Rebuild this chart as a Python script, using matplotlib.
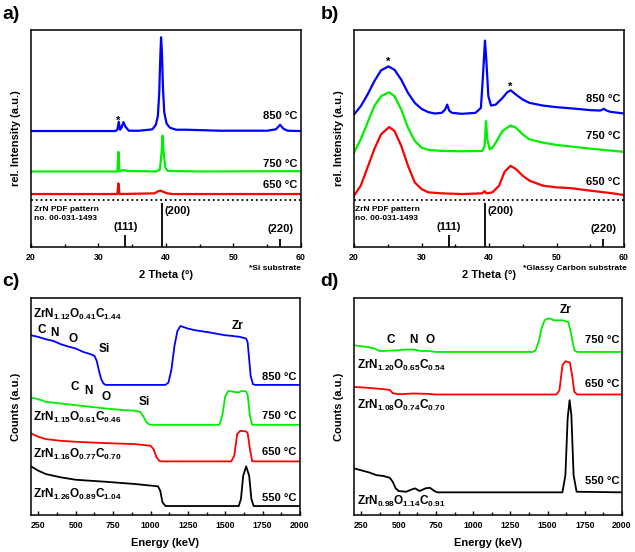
import matplotlib
matplotlib.use("Agg")
import matplotlib.pyplot as plt
from matplotlib.ticker import MultipleLocator

plt.rcParams['font.family'] = ['Liberation Sans', 'DejaVu Sans']
plt.rcParams['font.weight'] = 'bold'
plt.rcParams['mathtext.fontset'] = 'custom'
plt.rcParams['mathtext.rm'] = 'Liberation Sans:bold'
plt.rcParams['mathtext.bf'] = 'Liberation Sans:bold'
plt.rcParams['mathtext.it'] = 'Liberation Sans:bold'

BLUE, GREEN, RED, BLACK = '#0000ff', '#00ee00', '#ff0000', '#000000'

# ---------------- a) XRD on Si ----------------
a_850_x = [20, 25, 30, 32.5, 32.8, 33.0, 33.2, 33.4, 33.7, 34.0, 34.5, 36, 37.5, 38.0, 38.5, 38.8,
           39.0, 39.15, 39.27, 39.4, 39.55, 39.75, 40.1, 40.6, 41.5, 43, 48, 55, 56.3, 56.9, 57.4, 58, 60]
a_850_y = [116.7, 116.7, 116.7, 116.7, 118, 126, 118, 120, 125.7, 121, 117, 117, 118, 118.5, 123, 132,
           155, 190, 211, 195, 160, 135, 124, 120, 118, 118, 117, 117, 118.5, 123, 119, 117, 116.7]
a_750_x = [20, 30, 32.8, 32.95, 33.1, 33.7, 34.2, 38.5, 39.1, 39.35, 39.5, 39.65, 39.9, 40.3, 45, 60]
a_750_y = [76, 76, 76, 95.7, 76, 77.5, 76.5, 76, 78, 95, 112, 95, 80, 76.5, 76, 76.3]
a_650_x = [20, 32.8, 32.95, 33.1, 38.3, 38.8, 39.2, 39.6, 40.2, 41, 60]
a_650_y = [53.3, 53.3, 64, 53.3, 54, 56, 56.7, 55.5, 54, 53.3, 53.3]

# ZrN PDF 00-031-1493 reference sticks
pdf_pos = [34.0, 39.36, 56.9]
pdf_height = [12.3, 44.3, 8.3]
pdf_hkl = ['(111)', '(200)', '(220)']

# ---------------- b) XRD on glassy carbon ----------------
b_850_x = [20, 21, 22, 23, 24, 25.1, 26, 27, 28, 29, 30, 31, 32, 33, 33.5, 33.8, 34.1, 34.5, 36, 38, 38.8,
           39.1, 39.4, 39.6, 39.9, 40.3, 41, 42, 42.7, 43.2, 44, 45, 46, 48, 50, 53, 55, 56.5, 57, 57.5, 58, 60]
b_850_y = [133.3, 141.7, 153.3, 166.7, 177.7, 181.7, 178.3, 168.3, 155, 145, 139, 135.7, 134.3, 135, 138.3,
           143.3, 137.3, 135, 134, 135, 140, 171.7, 207.7, 188.3, 151.7, 142.3, 143.3, 150, 155.7, 157.7,
           153.3, 148.3, 145, 142.3, 140.7, 139, 137.7, 137.3, 139, 137, 136, 134.3]
b_750_x = [20, 21, 22, 23, 24, 25.2, 26, 27, 28, 29, 30, 31, 33, 36, 39, 39.35, 39.55, 39.75, 40.1, 40.5,
           41, 42, 43.2, 44, 45, 46, 48, 50, 55, 60]
b_750_y = [95, 108.3, 125, 141.7, 151.7, 155.7, 151.7, 138.3, 120, 106.7, 100, 97.7, 96.7, 96.3, 96.7,
           101.7, 126.7, 108.3, 98.3, 100, 105, 116.7, 122.3, 120, 113.3, 108.3, 105, 102.7, 99, 95.7]
b_650_x = [20, 21, 22, 23, 24, 25.2, 26, 27, 28, 29, 30, 31, 33, 36, 39, 39.35, 39.6, 40.5, 41.5, 42.3,
           43.2, 44, 45, 46, 48, 50, 52, 55, 58, 60]
b_650_y = [51.7, 61.7, 80, 98.3, 113.3, 120.7, 116.7, 101.7, 81.7, 65, 58.3, 55, 54, 53.3, 54, 56.3, 54,
           55, 61.7, 75.7, 81.7, 78.3, 71.7, 66.7, 61.7, 60, 59.3, 56.7, 54.3, 52.3]

# ---------------- c) RBS spectra on Si ----------------
c_850_x = [200, 250, 300, 350, 400, 450, 500, 550, 600, 625, 640, 655, 670, 685, 700, 1100, 1120, 1140,
           1160, 1180, 1200, 1250, 1300, 1400, 1500, 1550, 1600, 1640, 1650, 1660, 1670, 1685, 1700, 2000]
c_850_y = [180, 178.3, 176, 174.3, 171, 168.7, 166.7, 163.3, 161, 159.3, 154.3, 144.3, 136, 131.7, 130.3,
           130.3, 132.7, 146, 169.3, 184.3, 189.3, 186.7, 185, 182.7, 180, 179.3, 178.3, 176.7, 172.7,
           156, 139.3, 131, 130.3, 130.3]
c_750_x = [200, 250, 300, 400, 500, 600, 700, 800, 900, 930, 950, 970, 990, 1010, 1460, 1480, 1500, 1520,
           1560, 1590, 1610, 1640, 1650, 1665, 1680, 2000]
c_750_y = [117.7, 116, 113.3, 111.7, 110, 108.3, 106.7, 105.3, 104.3, 103.3, 99.3, 93.3, 90.7, 90.3, 90.3,
           99.3, 119, 124.3, 123.3, 122.7, 124.3, 123.7, 120, 99.3, 90.3, 90.3]
c_650_x = [200, 250, 300, 400, 500, 700, 900, 1000, 1020, 1040, 1060, 1080, 1540, 1560, 1580, 1600, 1640,
           1650, 1665, 1680, 1700, 2000]
c_650_y = [81.7, 78.3, 76, 74.3, 73.3, 72, 71, 69.3, 66, 57.7, 54, 53.7, 53.7, 59.3, 81, 84.3, 83.7, 82,
           66, 54, 53.7, 53.7]
c_550_x = [200, 250, 300, 400, 500, 700, 900, 1050, 1065, 1080, 1100, 1590, 1605, 1620, 1640, 1660, 1675,
           1690, 2000]
c_550_y = [48.7, 44.3, 41, 37.7, 35.3, 33.3, 31, 28.7, 24.3, 12.7, 9, 9, 16, 39.3, 48.7, 39.3, 16, 9, 9]
c_formula = [r'$\mathbf{ZrN_{1.12}O_{0.41}C_{1.44}}$', r'$\mathbf{ZrN_{1.15}O_{0.61}C_{0.46}}$',
             r'$\mathbf{ZrN_{1.16}O_{0.77}C_{0.70}}$', r'$\mathbf{ZrN_{1.26}O_{0.89}C_{1.04}}$']

# ---------------- d) RBS spectra on glassy carbon ----------------
d_750_x = [200, 300, 340, 370, 400, 500, 550, 600, 650, 700, 750, 1400, 1420, 1440, 1460, 1480, 1500,
           1520, 1540, 1600, 1640, 1660, 1680, 1700, 2000]
d_750_y = [170, 168, 166.7, 164.3, 164.3, 165, 165.7, 165.7, 164.3, 164.3, 163.3, 163.3, 165, 173.3,
           186.7, 195, 196.7, 196.7, 195, 195, 193.3, 180, 165, 163.3, 163.3]
d_650_x = [200, 300, 400, 440, 460, 500, 600, 700, 750, 1560, 1580, 1600, 1620, 1650, 1665, 1680, 1700, 2000]
d_650_y = [128.3, 127.3, 126, 125.3, 122, 121, 121.7, 121.3, 120.7, 120.7, 125, 150, 154, 152.7, 140,
           123.3, 120.7, 120.7]
d_550_x = [200, 300, 350, 400, 440, 460, 480, 500, 550, 590, 610, 640, 680, 710, 740, 760, 1600, 1620,
           1635, 1648, 1660, 1675, 1695, 2000]
d_550_y = [46.7, 42.7, 40, 39, 37.3, 33.3, 26.7, 24, 23.3, 25.7, 26.7, 24, 26.7, 27.3, 24, 22.7, 22.7, 40,
           96.7, 115, 100, 40, 23.3, 22.7]
d_formula = [r'$\mathbf{ZrN_{1.20}O_{0.65}C_{0.54}}$', r'$\mathbf{ZrN_{1.08}O_{0.74}C_{0.70}}$',
             r'$\mathbf{ZrN_{0.98}O_{1.14}C_{0.91}}$']

fig = plt.figure(figsize=(6.35, 5.52), dpi=100)
ax_a = fig.add_axes([0.0488, 0.5525, 0.4252, 0.3931])
ax_b = fig.add_axes([0.5575, 0.5525, 0.4252, 0.3931])
ax_c = fig.add_axes([0.0488, 0.0670, 0.4236, 0.3931])
ax_d = fig.add_axes([0.5575, 0.0670, 0.4220, 0.3931])


def style(ax, xlim, ylim, major, minor, xlabel, ylabel):
    ax.set_xlim(*xlim)
    ax.set_ylim(*ylim)
    ax.xaxis.set_major_locator(MultipleLocator(major))
    ax.xaxis.set_minor_locator(MultipleLocator(minor))
    ax.tick_params(axis='x', which='both', direction='in', labelsize=6.3, pad=4, width=1)
    ax.tick_params(axis='x', which='major', length=3)
    ax.tick_params(axis='x', which='minor', length=2)
    ax.set_yticks([])
    for s in ax.spines.values():
        s.set_linewidth(1.1)
    ax.set_xlabel(xlabel, fontsize=8, fontweight='bold', labelpad=6)
    ax.set_ylabel(ylabel, fontsize=8, fontweight='bold', labelpad=7)
    for lab in ax.get_xticklabels():
        lab.set_fontweight('bold')


def xrd_reference(ax, pdf_x):
    ax.axhline(47.0, color='black', ls=':', lw=1.3)
    ax.vlines(pdf_pos, 0, pdf_height, color='black', lw=1.3)
    ax.text(pdf_x, 37.3, 'ZrN PDF pattern', fontsize=6, va='center', ha='left')
    ax.text(pdf_x, 28.3, 'no. 00-031-1493', fontsize=6, va='center', ha='left')
    ax.text(pdf_pos[0], 20, pdf_hkl[0], fontsize=8, ha='center', va='center')
    ax.text(pdf_pos[1] + 0.4, 36, pdf_hkl[1], fontsize=8, ha='left', va='center')
    ax.text(pdf_pos[2], 17.8, pdf_hkl[2], fontsize=8, ha='center', va='center')


# a)
ax = ax_a
ax.plot(a_850_x, a_850_y, color=BLUE, lw=1.6)
ax.plot(a_750_x, a_750_y, color=GREEN, lw=1.6)
ax.plot(a_650_x, a_650_y, color=RED, lw=1.6)
style(ax, (20, 60), (0, 218.3), 10, 5, '2 Theta (°)', 'rel. Intensity (a.u.)')
xrd_reference(ax, 20.4)
ax.text(59.5, 131.7, '850 °C', fontsize=8, ha='right', va='center')
ax.text(59.5, 84, '750 °C', fontsize=8, ha='right', va='center')
ax.text(59.5, 62.3, '650 °C', fontsize=8, ha='right', va='center')
ax.text(32.9, 127, '*', fontsize=8, ha='center', va='center')
ax.text(1.0, -0.085, '*Si substrate', fontsize=6, ha='right', va='top', transform=ax.transAxes)
fig.text(0.003, 0.99, 'a)', fontsize=14, fontweight='bold', va='top')

# b)
ax = ax_b
ax.plot(b_850_x, b_850_y, color=BLUE, lw=1.6)
ax.plot(b_750_x, b_750_y, color=GREEN, lw=1.6)
ax.plot(b_650_x, b_650_y, color=RED, lw=1.6)
style(ax, (20, 60), (0, 218.3), 10, 5, '2 Theta (°)', 'rel. Intensity (a.u.)')
xrd_reference(ax, 20.1)
ax.text(59.4, 149, '850 °C', fontsize=8, ha='right', va='center')
ax.text(59.4, 111.7, '750 °C', fontsize=8, ha='right', va='center')
ax.text(59.4, 65.7, '650 °C', fontsize=8, ha='right', va='center')
ax.text(25.1, 186, '*', fontsize=8, ha='center', va='center')
ax.text(43.2, 161, '*', fontsize=8, ha='center', va='center')
ax.text(1.01, -0.085, '*Glassy Carbon substrate', fontsize=6, ha='right', va='top', transform=ax.transAxes)
fig.text(0.505, 0.99, 'b)', fontsize=14, fontweight='bold', va='top')

# c)
ax = ax_c
ax.plot(c_850_x, c_850_y, color=BLUE, lw=1.3)
ax.plot(c_750_x, c_750_y, color=GREEN, lw=1.3)
ax.plot(c_650_x, c_650_y, color=RED, lw=1.3)
ax.plot(c_550_x, c_550_y, color=BLACK, lw=1.3)
style(ax, (200, 2000), (0, 217.3), 250, 125, 'Energy (keV)', 'Counts (a.u.)')
for y, t in zip([138.7, 99.3, 63.3, 17.3], ['850 °C', '750 °C', '650 °C', '550 °C']):
    ax.text(1975, y, t, fontsize=8, ha='right', va='center')
for y, t in zip([201, 97.7, 61, 20.3], c_formula):
    ax.text(216, y, t, fontsize=8.5, ha='left', va='center')
for x, y, t in [(271, 185.3, 'C'), (360, 182, 'N'), (479, 176.7, 'O'), (688, 166, 'Si'),
                (1581, 189.3, 'Zr'), (494, 127.7, 'C'), (584, 124.3, 'N'), (702, 117.7, 'O'),
                (956, 112.7, 'Si')]:
    ax.text(x, y, t, fontsize=8.5, ha='center', va='center')
fig.text(0.003, 0.505, 'c)', fontsize=14, fontweight='bold', va='top')

# d)
ax = ax_d
ax.plot(d_750_x, d_750_y, color=GREEN, lw=1.3)
ax.plot(d_650_x, d_650_y, color=RED, lw=1.3)
ax.plot(d_550_x, d_550_y, color=BLACK, lw=1.3)
style(ax, (200, 2000), (0, 217.3), 250, 125, 'Energy (keV)', 'Counts (a.u.)')
for y, t in zip([175, 131, 34.3], ['750 °C', '650 °C', '550 °C']):
    ax.text(1985, y, t, fontsize=8, ha='right', va='center')
for y, t in zip([150, 109.3, 13.3], d_formula):
    ax.text(218, y, t, fontsize=8.5, ha='left', va='center')
for x, y, t in [(1620, 205.7, 'Zr'), (448, 175, 'C'), (598, 175, 'N'), (710, 175, 'O')]:
    ax.text(x, y, t, fontsize=8.5, ha='center', va='center')
fig.text(0.505, 0.505, 'd)', fontsize=14, fontweight='bold', va='top')

fig.savefig('out.png', dpi=100)
